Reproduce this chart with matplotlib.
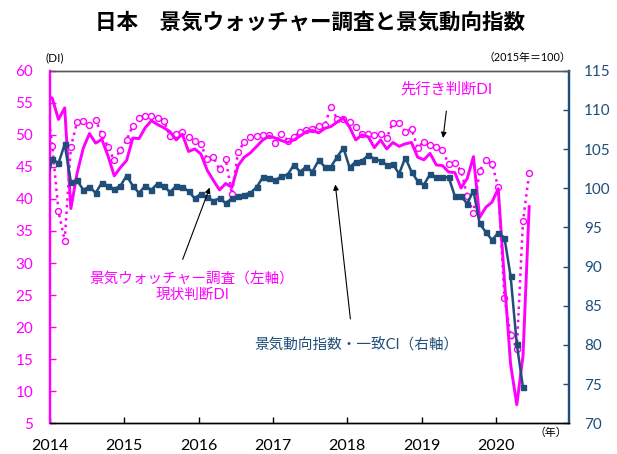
import numpy as np
import matplotlib
matplotlib.use('Agg')
import matplotlib.pyplot as plt
import pandas as pd

plt.rcParams['font.family'] = ['Lato', 'Noto Sans CJK JP', 'DejaVu Sans']

# ---------------- data ----------------
di_months = pd.period_range('2013-12', '2020-06', freq='M')
current_di = [56.2,
              55.7, 52.4, 54.2, 38.5, 44.0, 47.9, 50.2, 48.7, 49.3, 46.7, 43.6, 44.9,
              46.0, 49.5, 49.4, 51.1, 52.2, 51.6, 51.1, 50.5, 49.2, 50.1, 47.4, 47.8,
              47.0, 44.5, 42.9, 41.4, 42.4, 41.8, 45.2, 46.5, 47.2, 48.2, 49.2, 49.8,
              49.5, 49.1, 48.8, 49.2, 49.8, 50.5, 50.7, 50.3, 51.0, 51.3, 52.0, 52.6,
              51.2, 49.2, 50.0, 49.7, 48.0, 49.2, 47.8, 48.8, 48.2, 48.6, 48.8, 46.5,
              46.1, 47.1, 45.3, 45.2, 44.2, 44.1, 41.7, 43.2, 46.6, 37.1, 38.7, 39.5,
              41.6, 27.4, 14.2, 7.9, 15.5, 38.8]
future_di = [56.0,
             48.3, 38.1, 33.5, 48.1, 52.0, 52.1, 51.5, 52.3, 50.1, 48.1, 46.0, 47.6,
             49.2, 51.4, 52.6, 53.0, 53.0, 52.6, 52.2, 49.8, 50.2, 50.4, 49.6, 49.1,
             48.5, 46.2, 46.5, 44.6, 46.2, 40.8, 47.3, 48.9, 49.6, 49.8, 50.0, 50.0,
             48.8, 50.2, 49.1, 49.6, 50.5, 50.7, 50.9, 51.4, 51.5, 54.4, 52.4, 52.4,
             52.0, 51.2, 50.2, 50.2, 49.9, 50.2, 49.5, 51.9, 51.9, 50.5, 50.9, 48.0,
             48.9, 48.4, 48.1, 47.6, 45.4, 45.6, 44.4, 40.5, 37.8, 44.4, 46.0, 45.5,
             41.8, 24.6, 18.8, 16.6, 36.5, 44.0]
ci_months = pd.period_range('2013-12', '2020-05', freq='M')
ci = [100.6,
      103.7, 103.2, 105.6, 100.8, 101.0, 99.8, 100.2, 99.4, 100.7, 100.3, 99.9, 100.3,
      101.6, 100.3, 99.4, 100.3, 99.8, 100.6, 100.3, 99.5, 100.3, 100.2, 99.6, 98.7,
      99.3, 98.85, 98.4, 98.7, 98.1, 98.7, 98.95, 99.2, 99.4, 100.15, 101.4, 101.25,
      101.0, 101.55, 101.7, 103.0, 102.1, 102.75, 102.1, 103.55, 102.75, 102.75, 104.0, 105.15,
      102.65, 103.4, 103.5, 104.2, 103.75, 103.5, 103.0, 103.05, 101.85, 103.9, 102.1, 100.9,
      100.45, 101.8, 101.4, 101.4, 101.4, 99.0, 98.95, 98.05, 99.7, 95.5, 94.4, 93.4,
      94.3, 93.7, 88.8, 80.1, 74.6]
year_labels = ['2014', '2015', '2016', '2017', '2018', '2019', '2020']

MAG = '#FF00FF'
NAVY = '#1F4E79'


def month_pos(periods):
    return np.array([(p.year - 2014) * 12 + (p.month - 1) + 0.37 for p in periods])


W, H = 617, 454
fig = plt.figure(figsize=(W / 100, H / 100), dpi=100)
L, R, T, B = 50, 569, 70.7, 423.3
ax = fig.add_axes([L / W, 1 - B / H, (R - L) / W, (B - T) / H])
ax2 = ax.twinx()

x_di = month_pos(di_months)
x_ci = month_pos(ci_months)

ax.plot(x_di, future_di, linestyle=':', color=MAG, lw=1.8, marker='o', ms=4.3,
        mfc='white', mec=MAG, mew=1.0, zorder=2)
ax.plot(x_di, current_di, color=MAG, lw=2.1, zorder=3)
ax2.plot(x_ci, ci, color=NAVY, lw=1.8, marker='s', ms=3.6, zorder=3)

ax.set_xlim(0, 83.8)
ax.set_ylim(5, 60)
ax2.set_ylim(70, 115)
ax.set_yticks(np.arange(5, 61, 5))
ax2.set_yticks(np.arange(70, 116, 5))
ax.set_xticks(np.arange(len(year_labels)) * 12)
ax.set_xticklabels(year_labels)

ax.tick_params(axis='y', direction='in', colors=MAG, labelsize=11, pad=12, length=4, width=1)
ax2.tick_params(axis='y', direction='in', colors=NAVY, labelsize=11, pad=11, length=4, width=1)
ax.tick_params(axis='x', direction='in', colors='black', labelsize=11.5, pad=11, length=4, width=1)

for a in (ax, ax2):
    a.spines['left'].set_color(MAG)
    a.spines['left'].set_linewidth(1.6)
    a.spines['right'].set_color(NAVY)
    a.spines['right'].set_linewidth(1.6)
    a.spines['top'].set_color('#595959')
    a.spines['top'].set_linewidth(1.0)
    a.spines['bottom'].set_color('black')
    a.spines['bottom'].set_linewidth(1.0)


def fx(px):
    return px / W


def fy(py):
    return 1 - py / H


fig.text(fx(310), fy(22), '日本　景気ウォッチャー調査と景気動向指数', ha='center', va='center',
         fontsize=15.5, color='black', fontweight='bold')
fig.text(fx(55), fy(58), '(DI)', ha='center', va='center', fontsize=8.5, color='black')
fig.text(fx(527), fy(57.5), '（2015年＝100）', ha='center', va='center', fontsize=7.8, color='black')
fig.text(fx(551), fy(432), '（年）', ha='center', va='center', fontsize=7.8, color='black')

fig.text(fx(446), fy(90), '先行き判断DI', ha='center', va='center', fontsize=11, color=MAG)
fig.text(fx(192), fy(280), '景気ウォッチャー調査（左軸）', ha='center', va='center', fontsize=10.5, color=MAG)
fig.text(fx(192), fy(295), '現状判断DI', ha='center', va='center', fontsize=10.5, color=MAG)
fig.text(fx(356), fy(345), '景気動向指数・一致CI（右軸）', ha='center', va='center', fontsize=10.5, color=NAVY)

arrows = [((446.7, 108.3), (442.7, 140.7)),
          ((181.7, 262.0), (210.7, 185.0)),
          ((350.7, 321.7), (335.0, 181.7))]
for tail, tip in arrows:
    fig.add_artist(matplotlib.patches.FancyArrowPatch(
        (fx(tail[0]), fy(tail[1])), (fx(tip[0]), fy(tip[1])), transform=fig.transFigure,
        arrowstyle='-|>', mutation_scale=8, color='black', lw=0.8))

fig.savefig('out.png', dpi=100)
